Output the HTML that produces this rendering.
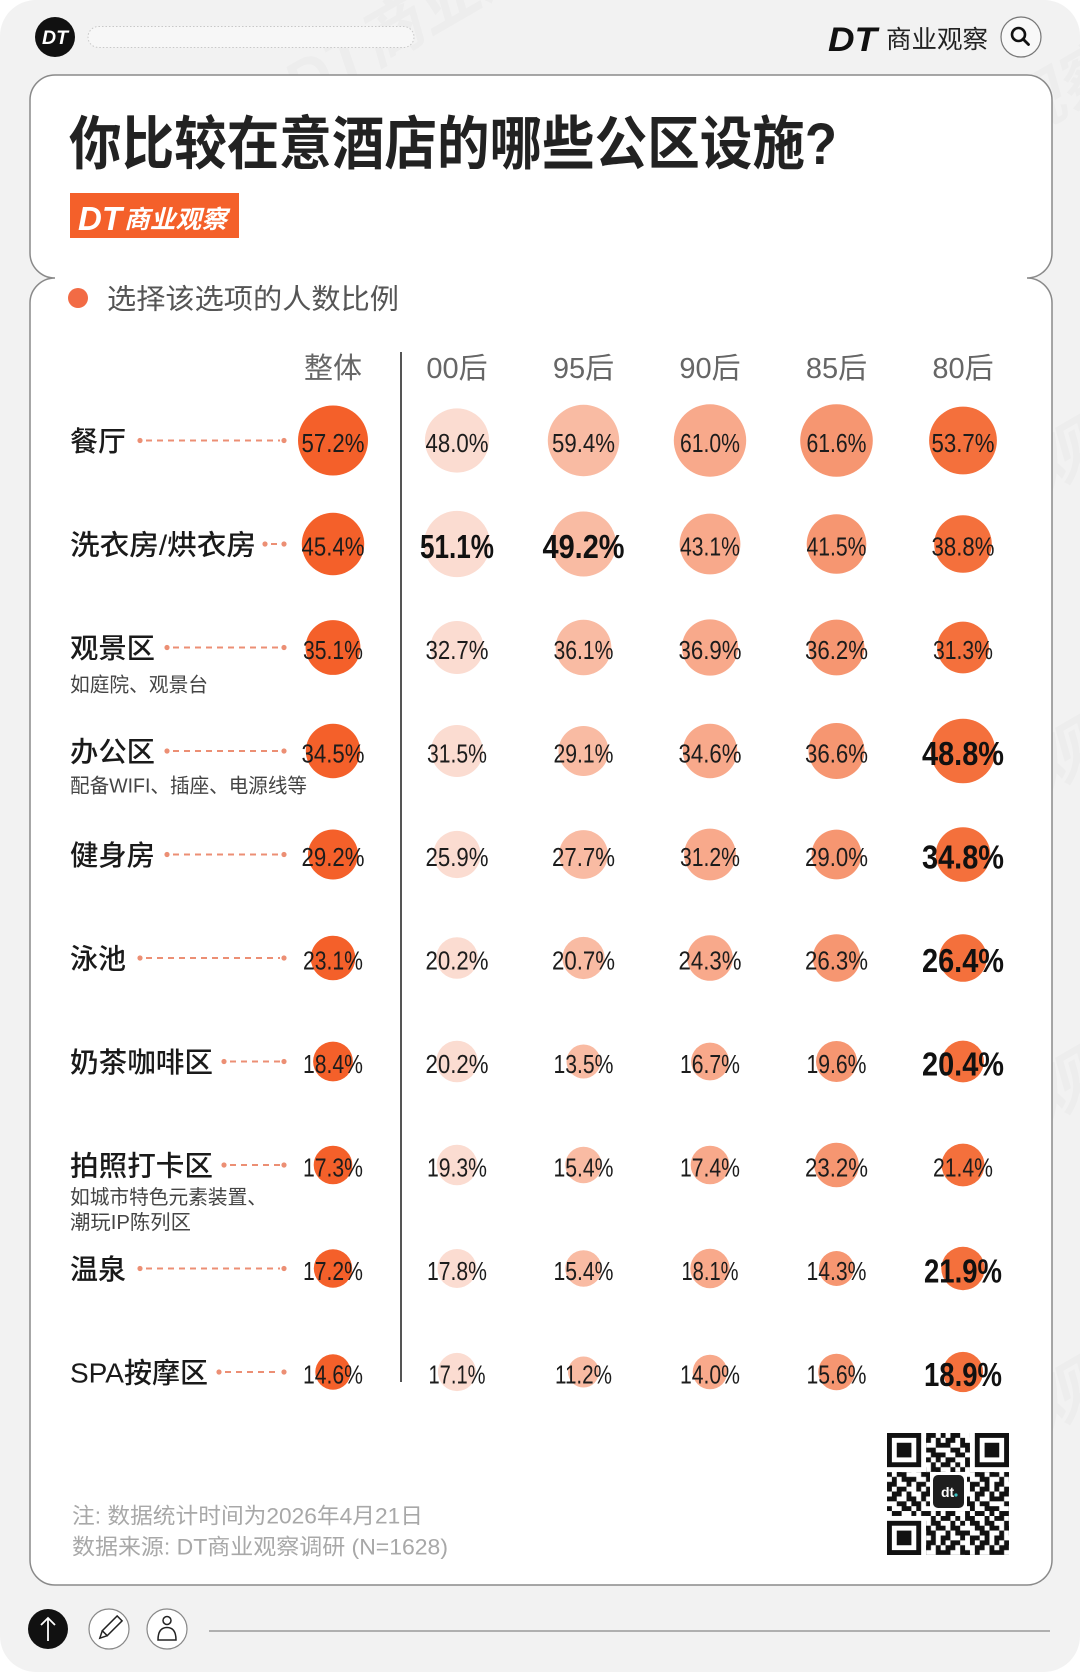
<!DOCTYPE html>
<html><head><meta charset="utf-8">
<style>
html,body{margin:0;padding:0;background:#fff;}
svg{display:block;}
.cj{font-family:"Liberation Sans","Noto Sans CJK SC",sans-serif;}
.v{font-family:"Liberation Sans",sans-serif;font-size:26px;fill:#1c1c1c;}
.b{font-family:"Liberation Sans",sans-serif;font-size:33px;font-weight:bold;fill:#111;}
.lab{font-family:"Liberation Sans","Noto Sans CJK SC",sans-serif;font-size:28px;font-weight:500;fill:#1a1a1a;}
.sub{font-family:"Liberation Sans","Noto Sans CJK SC",sans-serif;font-size:20px;fill:#444;}
.hd{font-family:"Liberation Sans","Noto Sans CJK SC",sans-serif;font-size:29px;fill:#666;}
.wm{font-family:"Liberation Sans","Noto Sans CJK SC",sans-serif;font-size:64px;font-weight:bold;font-style:italic;fill:#000;opacity:0.02;}
</style></head>
<body>
<svg width="1080" height="1672" viewBox="0 0 1080 1672" xmlns="http://www.w3.org/2000/svg">
<defs>
<pattern id="qr" x="0" y="0" width="11" height="11" patternUnits="userSpaceOnUse">
<path fill="#111" d="M0 0h1v1h-1zM2 0h2v1h-2zM6 0h1v1h-1zM8 0h2v1h-2z
M1 1h2v1h-2zM4 1h1v1h-1zM7 1h2v1h-2zM10 1h1v1h-1z
M0 2h2v1h-2zM4 2h2v1h-2zM7 2h1v1h-1zM10 2h1v1h-1z
M2 3h2v1h-2zM5 3h2v1h-2zM8 3h2v1h-2z
M0 4h1v1h-1zM3 4h2v1h-2zM6 4h1v1h-1zM9 4h2v1h-2z
M1 5h2v1h-2zM5 5h1v1h-1zM7 5h2v1h-2zM10 5h1v1h-1z
M0 6h2v1h-2zM3 6h1v1h-1zM5 6h2v1h-2zM9 6h1v1h-1z
M2 7h1v1h-1zM4 7h1v1h-1zM6 7h2v1h-2zM9 7h2v1h-2z
M0 8h1v1h-1zM2 8h2v1h-2zM7 8h2v1h-2zM10 8h1v1h-1z
M1 9h1v1h-1zM3 9h3v1h-3zM8 9h2v1h-2z
M0 10h2v1h-2zM4 10h1v1h-1zM6 10h2v1h-2zM9 10h1v1h-1z"/>
</pattern>
</defs>

<rect width="1080" height="1672" fill="#fff"/>
<rect width="1080" height="1672" rx="36" fill="#f2f2f2"/>

<!-- watermarks -->
<g class="wm">
<text transform="translate(300,110) rotate(-30)">DT商业观察</text>
<text transform="translate(830,250) rotate(-30)">DT商业观察</text>
<text transform="translate(330,420) rotate(-30)">DT商业观察</text>
<text transform="translate(860,600) rotate(-30)">DT商业观察</text>
<text transform="translate(330,760) rotate(-30)">DT商业观察</text>
<text transform="translate(860,900) rotate(-30)">DT商业观察</text>
<text transform="translate(330,1070) rotate(-30)">DT商业观察</text>
<text transform="translate(860,1230) rotate(-30)">DT商业观察</text>
<text transform="translate(330,1380) rotate(-30)">DT商业观察</text>
<text transform="translate(860,1540) rotate(-30)">DT商业观察</text>
</g>

<!-- top bar -->
<circle cx="55" cy="37" r="20" fill="#111"/>
<text x="42" y="44" font-family="Liberation Sans" font-weight="bold" font-style="italic" font-size="19" fill="#fff" textLength="26" lengthAdjust="spacingAndGlyphs">DT</text>
<rect x="88" y="26.5" width="326" height="21" rx="10.5" fill="#f7f7f7" stroke="#c8c8c8" stroke-width="1" stroke-dasharray="1.5 2"/>
<text x="828" y="51" font-family="Liberation Sans" font-weight="bold" font-style="italic" font-size="34" fill="#111" textLength="49" lengthAdjust="spacingAndGlyphs">DT</text>
<text x="886" y="48" class="cj" font-size="25" fill="#222" textLength="102" lengthAdjust="spacingAndGlyphs">商业观察</text>
<circle cx="1021" cy="37" r="20" fill="#f8f8f8" stroke="#777" stroke-width="1.2"/>
<circle cx="1018.5" cy="34.5" r="6.5" fill="none" stroke="#111" stroke-width="2.6"/>
<line x1="1023" y1="39" x2="1028.5" y2="44.5" stroke="#111" stroke-width="2.8" stroke-linecap="round"/>

<!-- card -->
<path d="M55 75 H1027 A25 25 0 0 1 1052 100 V253 A25 25 0 0 1 1027 278 A25 25 0 0 1 1052 303 V1560 A25 25 0 0 1 1027 1585 H55 A25 25 0 0 1 30 1560 V303 A25 25 0 0 1 55 278 A25 25 0 0 1 30 253 V100 A25 25 0 0 1 55 75 Z" fill="#fff" stroke="#8a8a8a" stroke-width="1.5"/>

<!-- title -->
<text x="69" y="164" class="cj" font-size="58" font-weight="bold" fill="#222" textLength="768" lengthAdjust="spacingAndGlyphs">你比较在意酒店的哪些公区设施?</text>

<!-- badge -->
<rect x="70" y="193" width="169" height="45" fill="#f4602a"/>
<text x="78" y="230" font-family="Liberation Sans" font-weight="bold" font-style="italic" font-size="33" fill="#fff" textLength="44" lengthAdjust="spacingAndGlyphs">DT</text>
<text x="124" y="228" class="cj" font-size="25" font-weight="bold" font-style="italic" fill="#fff" textLength="103" lengthAdjust="spacingAndGlyphs">商业观察</text>

<!-- legend -->
<circle cx="78" cy="298" r="10" fill="#f26b45"/>
<text x="107" y="308.5" class="cj" font-size="28" fill="#555" textLength="292" lengthAdjust="spacingAndGlyphs">选择该选项的人数比例</text>

<!-- headers -->
<g class="hd" text-anchor="middle">
<text x="333" y="378">整体</text>
<text x="457" y="378">00后</text>
<text x="583.5" y="378">95后</text>
<text x="710" y="378">90后</text>
<text x="836.5" y="378">85后</text>
<text x="963" y="378">80后</text>
</g>

<line x1="401" y1="352" x2="401" y2="1382" stroke="#555" stroke-width="2"/>

<!-- labels -->
<g class="lab">
<text x="70" y="451" textLength="56" lengthAdjust="spacingAndGlyphs">餐厅</text>
<text x="70" y="554.5" textLength="186" lengthAdjust="spacingAndGlyphs">洗衣房/烘衣房</text>
<text x="70" y="658" textLength="85" lengthAdjust="spacingAndGlyphs">观景区</text>
<text x="70" y="761.5" textLength="85" lengthAdjust="spacingAndGlyphs">办公区</text>
<text x="70" y="865" textLength="85" lengthAdjust="spacingAndGlyphs">健身房</text>
<text x="70" y="968.5" textLength="56" lengthAdjust="spacingAndGlyphs">泳池</text>
<text x="70" y="1072" textLength="143" lengthAdjust="spacingAndGlyphs">奶茶咖啡区</text>
<text x="70" y="1175.5" textLength="143" lengthAdjust="spacingAndGlyphs">拍照打卡区</text>
<text x="70" y="1279" textLength="56" lengthAdjust="spacingAndGlyphs">温泉</text>
<text x="70" y="1382.5" textLength="138" lengthAdjust="spacingAndGlyphs">SPA按摩区</text>
</g>
<g class="sub">
<text x="70" y="691.5" textLength="138" lengthAdjust="spacingAndGlyphs">如庭院、观景台</text>
<text x="70" y="792.5" textLength="237" lengthAdjust="spacingAndGlyphs">配备WIFI、插座、电源线等</text>
<text x="70" y="1204" textLength="197" lengthAdjust="spacingAndGlyphs">如城市特色元素装置、</text>
<text x="70" y="1229" textLength="121" lengthAdjust="spacingAndGlyphs">潮玩IP陈列区</text>
</g>

<!-- dashed connectors -->
<g stroke="#ec8f74" stroke-width="2" stroke-dasharray="6 5" fill="none">
<line x1="146" y1="440.5" x2="280" y2="440.5"/>
<line x1="271" y1="544" x2="280" y2="544"/>
<line x1="173" y1="647.5" x2="280" y2="647.5"/>
<line x1="173" y1="751" x2="280" y2="751"/>
<line x1="173" y1="854.5" x2="280" y2="854.5"/>
<line x1="146" y1="958" x2="280" y2="958"/>
<line x1="230" y1="1061.5" x2="280" y2="1061.5"/>
<line x1="230" y1="1165" x2="280" y2="1165"/>
<line x1="146" y1="1268.5" x2="280" y2="1268.5"/>
<line x1="225" y1="1372" x2="280" y2="1372"/>
</g>
<g fill="#ec8f74">
<circle cx="140" cy="440.5" r="2.6"/><circle cx="284" cy="440.5" r="2.6"/>
<circle cx="265" cy="544" r="2.6"/><circle cx="284" cy="544" r="2.6"/>
<circle cx="167" cy="647.5" r="2.6"/><circle cx="284" cy="647.5" r="2.6"/>
<circle cx="167" cy="751" r="2.6"/><circle cx="284" cy="751" r="2.6"/>
<circle cx="167" cy="854.5" r="2.6"/><circle cx="284" cy="854.5" r="2.6"/>
<circle cx="140" cy="958" r="2.6"/><circle cx="284" cy="958" r="2.6"/>
<circle cx="224" cy="1061.5" r="2.6"/><circle cx="284" cy="1061.5" r="2.6"/>
<circle cx="224" cy="1165" r="2.6"/><circle cx="284" cy="1165" r="2.6"/>
<circle cx="140" cy="1268.5" r="2.6"/><circle cx="284" cy="1268.5" r="2.6"/>
<circle cx="219" cy="1372" r="2.6"/><circle cx="284" cy="1372" r="2.6"/>
</g>

<!-- circles -->
<g fill="#f4602a">
<circle cx="333" cy="440.5" r="35"/>
<circle cx="333" cy="544" r="31.2"/>
<circle cx="333" cy="647.5" r="27.4"/>
<circle cx="333" cy="751" r="27.2"/>
<circle cx="333" cy="854.5" r="25"/>
<circle cx="333" cy="958" r="22.3"/>
<circle cx="333" cy="1061.5" r="19.9"/>
<circle cx="333" cy="1165" r="19.3"/>
<circle cx="333" cy="1268.5" r="19.2"/>
<circle cx="333" cy="1372" r="17.7"/>
</g>
<g fill="#fbdcd1">
<circle cx="457" cy="440.5" r="32.1"/>
<circle cx="457" cy="544" r="33.1"/>
<circle cx="457" cy="647.5" r="26.5"/>
<circle cx="457" cy="751" r="26"/>
<circle cx="457" cy="854.5" r="23.6"/>
<circle cx="457" cy="958" r="20.8"/>
<circle cx="457" cy="1061.5" r="20.8"/>
<circle cx="457" cy="1165" r="20.3"/>
<circle cx="457" cy="1268.5" r="19.5"/>
<circle cx="457" cy="1372" r="19.1"/>
</g>
<g fill="#f9bba3">
<circle cx="583.5" cy="440.5" r="35.7"/>
<circle cx="583.5" cy="544" r="32.5"/>
<circle cx="583.5" cy="647.5" r="27.8"/>
<circle cx="583.5" cy="751" r="25"/>
<circle cx="583.5" cy="854.5" r="24.4"/>
<circle cx="583.5" cy="958" r="21.1"/>
<circle cx="583.5" cy="1061.5" r="17"/>
<circle cx="583.5" cy="1165" r="18.2"/>
<circle cx="583.5" cy="1268.5" r="18.2"/>
<circle cx="583.5" cy="1372" r="15.5"/>
</g>
<g fill="#f8a98b">
<circle cx="710" cy="440.5" r="36.2"/>
<circle cx="710" cy="544" r="30.4"/>
<circle cx="710" cy="647.5" r="28.1"/>
<circle cx="710" cy="751" r="27.2"/>
<circle cx="710" cy="854.5" r="25.9"/>
<circle cx="710" cy="958" r="22.8"/>
<circle cx="710" cy="1061.5" r="18.9"/>
<circle cx="710" cy="1165" r="19.3"/>
<circle cx="710" cy="1268.5" r="19.7"/>
<circle cx="710" cy="1372" r="17.3"/>
</g>
<g fill="#f69671">
<circle cx="836.5" cy="440.5" r="36.3"/>
<circle cx="836.5" cy="544" r="29.8"/>
<circle cx="836.5" cy="647.5" r="27.9"/>
<circle cx="836.5" cy="751" r="28"/>
<circle cx="836.5" cy="854.5" r="24.9"/>
<circle cx="836.5" cy="958" r="23.7"/>
<circle cx="836.5" cy="1061.5" r="20.5"/>
<circle cx="836.5" cy="1165" r="22.3"/>
<circle cx="836.5" cy="1268.5" r="17.5"/>
<circle cx="836.5" cy="1372" r="18.3"/>
</g>
<g fill="#f4703c">
<circle cx="963" cy="440.5" r="33.9"/>
<circle cx="963" cy="544" r="28.8"/>
<circle cx="963" cy="647.5" r="25.9"/>
<circle cx="963" cy="751" r="32.3"/>
<circle cx="963" cy="854.5" r="27.3"/>
<circle cx="963" cy="958" r="23.8"/>
<circle cx="963" cy="1061.5" r="20.9"/>
<circle cx="963" cy="1165" r="21.4"/>
<circle cx="963" cy="1268.5" r="21.7"/>
<circle cx="963" cy="1372" r="20.1"/>
</g>

<!-- values -->
<g class="v">
<text x="301.5" y="451.8" textLength="63" lengthAdjust="spacingAndGlyphs">57.2%</text>
<text x="425.5" y="451.8" textLength="63" lengthAdjust="spacingAndGlyphs">48.0%</text>
<text x="552" y="451.8" textLength="63" lengthAdjust="spacingAndGlyphs">59.4%</text>
<text x="680" y="451.8" textLength="60" lengthAdjust="spacingAndGlyphs">61.0%</text>
<text x="806.5" y="451.8" textLength="60" lengthAdjust="spacingAndGlyphs">61.6%</text>
<text x="931.5" y="451.8" textLength="63" lengthAdjust="spacingAndGlyphs">53.7%</text>
<text x="301.5" y="555.3" textLength="63" lengthAdjust="spacingAndGlyphs">45.4%</text>
<text x="680" y="555.3" textLength="60" lengthAdjust="spacingAndGlyphs">43.1%</text>
<text x="806.5" y="555.3" textLength="60" lengthAdjust="spacingAndGlyphs">41.5%</text>
<text x="931.5" y="555.3" textLength="63" lengthAdjust="spacingAndGlyphs">38.8%</text>
<text x="303" y="658.8" textLength="60" lengthAdjust="spacingAndGlyphs">35.1%</text>
<text x="425.5" y="658.8" textLength="63" lengthAdjust="spacingAndGlyphs">32.7%</text>
<text x="553.5" y="658.8" textLength="60" lengthAdjust="spacingAndGlyphs">36.1%</text>
<text x="678.5" y="658.8" textLength="63" lengthAdjust="spacingAndGlyphs">36.9%</text>
<text x="805" y="658.8" textLength="63" lengthAdjust="spacingAndGlyphs">36.2%</text>
<text x="933" y="658.8" textLength="60" lengthAdjust="spacingAndGlyphs">31.3%</text>
<text x="301.5" y="762.3" textLength="63" lengthAdjust="spacingAndGlyphs">34.5%</text>
<text x="427" y="762.3" textLength="60" lengthAdjust="spacingAndGlyphs">31.5%</text>
<text x="553.5" y="762.3" textLength="60" lengthAdjust="spacingAndGlyphs">29.1%</text>
<text x="678.5" y="762.3" textLength="63" lengthAdjust="spacingAndGlyphs">34.6%</text>
<text x="805" y="762.3" textLength="63" lengthAdjust="spacingAndGlyphs">36.6%</text>
<text x="301.5" y="865.8" textLength="63" lengthAdjust="spacingAndGlyphs">29.2%</text>
<text x="425.5" y="865.8" textLength="63" lengthAdjust="spacingAndGlyphs">25.9%</text>
<text x="552" y="865.8" textLength="63" lengthAdjust="spacingAndGlyphs">27.7%</text>
<text x="680" y="865.8" textLength="60" lengthAdjust="spacingAndGlyphs">31.2%</text>
<text x="805" y="865.8" textLength="63" lengthAdjust="spacingAndGlyphs">29.0%</text>
<text x="303" y="969.3" textLength="60" lengthAdjust="spacingAndGlyphs">23.1%</text>
<text x="425.5" y="969.3" textLength="63" lengthAdjust="spacingAndGlyphs">20.2%</text>
<text x="552" y="969.3" textLength="63" lengthAdjust="spacingAndGlyphs">20.7%</text>
<text x="678.5" y="969.3" textLength="63" lengthAdjust="spacingAndGlyphs">24.3%</text>
<text x="805" y="969.3" textLength="63" lengthAdjust="spacingAndGlyphs">26.3%</text>
<text x="303" y="1072.8" textLength="60" lengthAdjust="spacingAndGlyphs">18.4%</text>
<text x="425.5" y="1072.8" textLength="63" lengthAdjust="spacingAndGlyphs">20.2%</text>
<text x="553.5" y="1072.8" textLength="60" lengthAdjust="spacingAndGlyphs">13.5%</text>
<text x="680" y="1072.8" textLength="60" lengthAdjust="spacingAndGlyphs">16.7%</text>
<text x="806.5" y="1072.8" textLength="60" lengthAdjust="spacingAndGlyphs">19.6%</text>
<text x="303" y="1176.3" textLength="60" lengthAdjust="spacingAndGlyphs">17.3%</text>
<text x="427" y="1176.3" textLength="60" lengthAdjust="spacingAndGlyphs">19.3%</text>
<text x="553.5" y="1176.3" textLength="60" lengthAdjust="spacingAndGlyphs">15.4%</text>
<text x="680" y="1176.3" textLength="60" lengthAdjust="spacingAndGlyphs">17.4%</text>
<text x="805" y="1176.3" textLength="63" lengthAdjust="spacingAndGlyphs">23.2%</text>
<text x="933" y="1176.3" textLength="60" lengthAdjust="spacingAndGlyphs">21.4%</text>
<text x="303" y="1279.8" textLength="60" lengthAdjust="spacingAndGlyphs">17.2%</text>
<text x="427" y="1279.8" textLength="60" lengthAdjust="spacingAndGlyphs">17.8%</text>
<text x="553.5" y="1279.8" textLength="60" lengthAdjust="spacingAndGlyphs">15.4%</text>
<text x="681.5" y="1279.8" textLength="57" lengthAdjust="spacingAndGlyphs">18.1%</text>
<text x="806.5" y="1279.8" textLength="60" lengthAdjust="spacingAndGlyphs">14.3%</text>
<text x="303" y="1383.3" textLength="60" lengthAdjust="spacingAndGlyphs">14.6%</text>
<text x="428.5" y="1383.3" textLength="57" lengthAdjust="spacingAndGlyphs">17.1%</text>
<text x="555" y="1383.3" textLength="57" lengthAdjust="spacingAndGlyphs">11.2%</text>
<text x="680" y="1383.3" textLength="60" lengthAdjust="spacingAndGlyphs">14.0%</text>
<text x="806.5" y="1383.3" textLength="60" lengthAdjust="spacingAndGlyphs">15.6%</text>
</g>
<g class="b">
<text x="420" y="557.8" textLength="74" lengthAdjust="spacingAndGlyphs">51.1%</text>
<text x="542.5" y="557.8" textLength="82" lengthAdjust="spacingAndGlyphs">49.2%</text>
<text x="922" y="764.8" textLength="82" lengthAdjust="spacingAndGlyphs">48.8%</text>
<text x="922" y="868.3" textLength="82" lengthAdjust="spacingAndGlyphs">34.8%</text>
<text x="922" y="971.8" textLength="82" lengthAdjust="spacingAndGlyphs">26.4%</text>
<text x="922" y="1075.3" textLength="82" lengthAdjust="spacingAndGlyphs">20.4%</text>
<text x="924" y="1282.3" textLength="78" lengthAdjust="spacingAndGlyphs">21.9%</text>
<text x="924" y="1385.8" textLength="78" lengthAdjust="spacingAndGlyphs">18.9%</text>
</g>

<!-- footnotes -->
<text x="72" y="1523.5" class="cj" font-size="22" fill="#a8a8a8" textLength="351" lengthAdjust="spacingAndGlyphs">注: 数据统计时间为2026年4月21日</text>
<text x="72" y="1554.5" class="cj" font-size="22" fill="#a8a8a8" textLength="376" lengthAdjust="spacingAndGlyphs">数据来源: DT商业观察调研 (N=1628)</text>

<!-- QR -->
<g transform="translate(887,1433) scale(4.88)">
<rect x="0" y="0" width="25" height="25" fill="url(#qr)"/>
<rect x="0" y="0" width="8" height="8" fill="#fff"/>
<rect x="17" y="0" width="8" height="8" fill="#fff"/>
<rect x="0" y="17" width="8" height="8" fill="#fff"/>
<g fill="#111">
<rect x="0" y="0" width="7" height="7"/><rect x="18" y="0" width="7" height="7"/><rect x="0" y="18" width="7" height="7"/>
</g>
<g fill="#fff">
<rect x="1" y="1" width="5" height="5"/><rect x="19" y="1" width="5" height="5"/><rect x="1" y="19" width="5" height="5"/>
</g>
<g fill="#111">
<rect x="2" y="2" width="3" height="3"/><rect x="20" y="2" width="3" height="3"/><rect x="2" y="20" width="3" height="3"/>
</g>
</g>
<rect x="930" y="1472" width="37" height="39" fill="#fff"/>
<rect x="933" y="1475" width="31" height="33" rx="5" fill="#1e1e1e"/>
<text x="941" y="1497" font-family="Liberation Sans" font-weight="bold" font-size="14" fill="#fff">dt</text>
<circle cx="956" cy="1495" r="1.6" fill="#3ec6c6"/>

<!-- bottom bar -->
<circle cx="48" cy="1629" r="20" fill="#111"/>
<line x1="48" y1="1641" x2="48" y2="1618" stroke="#fff" stroke-width="1.8"/>
<polyline points="41,1625 48,1618 55,1625" fill="none" stroke="#fff" stroke-width="1.8"/>
<circle cx="109" cy="1629" r="20" fill="#fff" stroke="#888" stroke-width="1.2"/>
<g transform="rotate(45 109 1629)" fill="none" stroke="#222" stroke-width="1.5">
<rect x="105.5" y="1614" width="7" height="21"/>
<path d="M105.5 1635 L109 1642 L112.5 1635"/>
</g>
<circle cx="167" cy="1629" r="20" fill="#fff" stroke="#888" stroke-width="1.2"/>
<circle cx="167" cy="1620.5" r="4" fill="none" stroke="#222" stroke-width="1.5"/>
<path d="M158 1640 Q158 1627.5 167 1627.5 Q176 1627.5 176 1640 Z" fill="none" stroke="#222" stroke-width="1.5"/>
<line x1="209" y1="1631" x2="1050" y2="1631" stroke="#999" stroke-width="1.5"/>
</svg>
</body></html>
